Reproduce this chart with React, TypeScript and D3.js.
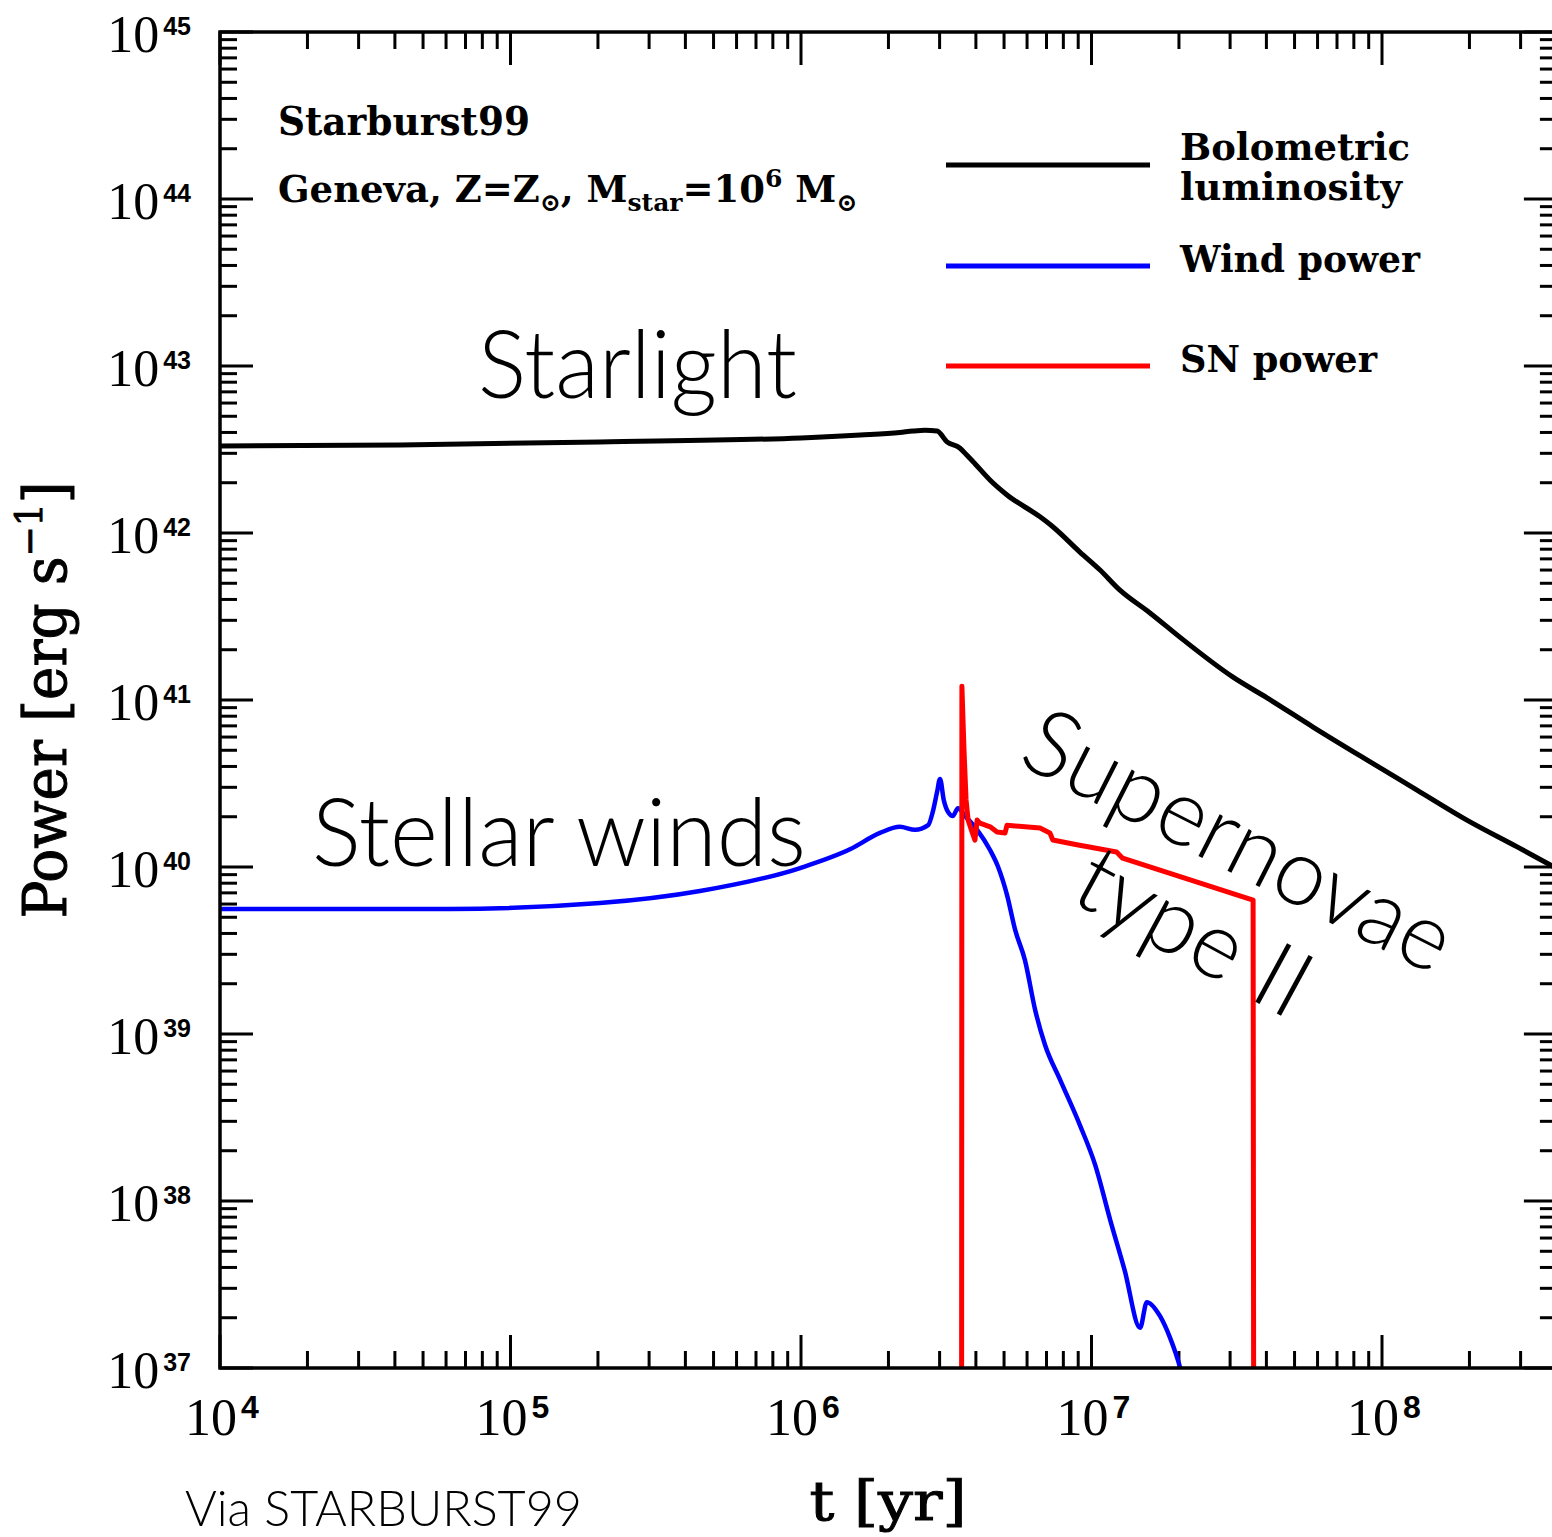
import React from 'react';
import * as d3 from 'd3';

// Starburst99 instantaneous burst, Geneva tracks, Z = Zsun, Mstar = 1e6 Msun
// Each entry: [time in yr, power in erg/s]
const bolometric: [number, number][] = [
  [1.0e4, 3.32e42], [4.17e4, 3.37e42], [2.03e5, 3.51e42], [1.0e6, 3.71e42],
  [1.6e6, 3.86e42], [2.19e6, 4.0e42], [2.43e6, 4.08e42], [2.67e6, 4.12e42],
  [2.94e6, 4.08e42], [3.18e6, 3.51e42], [3.52e6, 3.23e42], [3.72e6, 2.93e42],
  [3.97e6, 2.6e42], [4.48e6, 2.07e42], [5.12e6, 1.69e42], [6.65e6, 1.25e42],
  [7.36e6, 1.09e42], [9.12e6, 7.69e41], [1.07e7, 6.0e41], [1.25e7, 4.56e41],
  [1.59e7, 3.32e41], [2.07e7, 2.29e41], [3.07e7, 1.37e41], [4.02e7, 1.03e41],
  [5.79e7, 6.89e40], [8.87e7, 4.38e40], [1.32e8, 2.89e40], [1.96e8, 1.91e40],
  [2.92e8, 1.32e40], [4.0e8, 9.8e39],
];

const windPower: [number, number][] = [
  [1.0e4, 5.61e39], [6.19e4, 5.61e39], [2.03e5, 6.08e39], [4.49e5, 7.18e39],
  [9.93e5, 9.86e39], [1.48e6, 1.28e40], [1.87e6, 1.6e40], [2.19e6, 1.74e40],
  [2.47e6, 1.67e40], [2.74e6, 1.78e40], [2.84e6, 2.13e40], [2.94e6, 2.81e40],
  [3.01e6, 3.37e40], [3.1e6, 2.52e40], [3.21e6, 2.13e40], [3.33e6, 2.02e40],
  [3.47e6, 2.25e40], [3.67e6, 2.02e40], [4.04e6, 1.67e40], [4.48e6, 1.26e40],
  [4.76e6, 1.01e40], [5.12e6, 6.79e39], [5.46e6, 4.2e39], [5.9e6, 2.77e39],
  [6.4e6, 1.39e39], [6.92e6, 8.59e38], [7.8e6, 5.31e38], [9.12e6, 2.85e38],
  [1.03e7, 1.64e38], [1.16e7, 7.69e37], [1.3e7, 3.86e37], [1.47e7, 1.74e37],
  [1.55e7, 2.48e37], [1.72e7, 2.05e37], [1.86e7, 1.53e37], [2.02e7, 1.0e37],
  [2.09e7, 7.9e36],
];

const snPower: [number, number][] = [
  [3.57e6, 1e36], [3.58e6, 1.21e41], [3.64e6, 5.02e40], [3.7e6, 2.52e40],
  [3.76e6, 1.91e40], [3.88e6, 1.62e40], [3.97e6, 1.45e40], [4.04e6, 1.91e40],
  [4.13e6, 1.83e40], [4.48e6, 1.74e40], [4.73e6, 1.62e40], [5.04e6, 1.6e40],
  [5.12e6, 1.78e40], [6.65e6, 1.71e40], [7.19e6, 1.6e40], [7.36e6, 1.45e40],
  [8.91e6, 1.36e40], [1.22e7, 1.23e40], [1.28e7, 1.13e40], [3.6e7, 6.34e39],
  [3.62e7, 1e36],
];

const xDecades = [4, 5, 6, 7, 8];
const yDecades = [37, 38, 39, 40, 41, 42, 43, 44, 45];

const legendItems = [
  { lines: ['Bolometric', 'luminosity'], color: '#000000' },
  { lines: ['Wind power'], color: '#0000ff' },
  { lines: ['SN power'], color: '#ff0000' },
];

const SERIF = "'Liberation Serif', 'Times New Roman', serif";
const SANS = "'Liberation Sans', Arial, sans-serif";
const TYPE = "'DejaVu Serif', serif";
const LIGHT = "Lato, 'Open Sans', sans-serif";

export default function App() {
  const W = 1552;
  const H = 1537;
  const left = 220;
  const top = 32;
  const bottom = 1368;
  const decadeW = 290.5;
  const xMin = 1e4;
  const xMax = 4e8;

  const x = d3.scaleLog().domain([xMin, xMax]).range([left, left + decadeW * Math.log10(xMax / xMin)]);
  const y = d3.scaleLog().domain([1e37, 1e45]).range([bottom, top]);
  const right = x(xMax);

  const smooth = d3
    .line<[number, number]>()
    .x((d) => x(d[0]))
    .y((d) => y(d[1]))
    .curve(d3.curveMonotoneX);
  const sharp = d3
    .line<[number, number]>()
    .x((d) => x(d[0]))
    .y((d) => y(d[1]));

  const xMinor: number[] = [];
  xDecades.forEach((e) => {
    for (let m = 2; m <= 9; m++) {
      const v = m * Math.pow(10, e);
      if (v <= xMax * 1.0001) xMinor.push(v);
    }
  });
  const yMinor: number[] = [];
  yDecades.slice(0, -1).forEach((e) => {
    for (let m = 2; m <= 9; m++) yMinor.push(m * Math.pow(10, e));
  });

  const major = 33;
  const minor = 17;
  const tickStroke = 3;

  return (
    <div style={{ position: 'absolute', left: 0, top: 0 }}>
      <svg width={W} height={H} style={{ display: 'block', background: '#fff' }}>
        <defs>
          <clipPath id="plot-area">
            <rect x={left} y={top} width={right - left} height={bottom - top} />
          </clipPath>
        </defs>

        {/* ticks */}
        <g stroke="#000" strokeWidth={tickStroke}>
          {xDecades.map((e) => {
            const px = x(Math.pow(10, e));
            return (
              <g key={'xM' + e}>
                <line x1={px} x2={px} y1={bottom} y2={bottom - major} />
                <line x1={px} x2={px} y1={top} y2={top + major} />
              </g>
            );
          })}
          {xMinor.map((v, i) => {
            const px = x(v);
            return (
              <g key={'xm' + i}>
                <line x1={px} x2={px} y1={bottom} y2={bottom - minor} />
                <line x1={px} x2={px} y1={top} y2={top + minor} />
              </g>
            );
          })}
          {yDecades.map((e) => {
            const py = y(Math.pow(10, e));
            return (
              <g key={'yM' + e}>
                <line x1={left} x2={left + major} y1={py} y2={py} />
                <line x1={right} x2={right - major} y1={py} y2={py} />
              </g>
            );
          })}
          {yMinor.map((v, i) => {
            const py = y(v);
            return (
              <g key={'ym' + i}>
                <line x1={left} x2={left + minor} y1={py} y2={py} />
                <line x1={right} x2={right - minor} y1={py} y2={py} />
              </g>
            );
          })}
        </g>

        {/* curves */}
        <g clipPath="url(#plot-area)" fill="none" strokeLinejoin="round" strokeLinecap="round">
          <path d={smooth(windPower) || ''} stroke="#0000ff" strokeWidth={4.5} />
          <path d={sharp(snPower) || ''} stroke="#ff0000" strokeWidth={5} />
          <path d={smooth(bolometric) || ''} stroke="#000" strokeWidth={5} />
        </g>

        {/* frame */}
        <rect x={left} y={top} width={right - left} height={bottom - top} fill="none" stroke="#000" strokeWidth={3.5} />

        {/* y tick labels */}
        {yDecades.map((e) => (
          <text key={'yl' + e} x={191} y={y(Math.pow(10, e)) + 20} textAnchor="end" fill="#000">
            <tspan fontFamily={SERIF} fontSize={52}>10</tspan>
            <tspan fontFamily={SANS} fontWeight="bold" fontSize={25} dx={4} dy={-17}>{e}</tspan>
          </text>
        ))}

        {/* x tick labels */}
        {xDecades.map((e) => (
          <text key={'xl' + e} x={x(Math.pow(10, e)) + 2} y={1435} textAnchor="middle" fill="#000">
            <tspan fontFamily={SERIF} fontSize={52}>10</tspan>
            <tspan fontFamily={SANS} fontWeight="bold" fontSize={32} dx={4} dy={-17}>{e}</tspan>
          </text>
        ))}

        {/* axis titles */}
        <text x={888} y={1520} textAnchor="middle" fontFamily={TYPE} fontSize={54}
          stroke="#000" strokeWidth={1} textLength={157} lengthAdjust="spacingAndGlyphs">t [yr]</text>
        <text transform={`translate(66, ${(top + bottom) / 2}) rotate(-90)`} textAnchor="middle"
          fontFamily={TYPE} fontSize={60} stroke="#000" strokeWidth={1} textLength={437}
          lengthAdjust="spacingAndGlyphs">
          Power [erg s<tspan fontSize={38} dy={-24}>−1</tspan><tspan dy={24}>]</tspan>
        </text>

        {/* model annotation */}
        <text x={278} y={135} fontFamily={TYPE} fontWeight="bold" fontSize={40}
          textLength={252} lengthAdjust="spacingAndGlyphs">Starburst99</text>
        <text x={278} y={202} fontFamily={TYPE} fontWeight="bold" fontSize={37}>
          Geneva, Z=Z<tspan fontSize={25} dy={9}>⊙</tspan>
          <tspan dy={-9}>, M</tspan>
          <tspan fontSize={25} dy={9}>star</tspan>
          <tspan dy={-9}>=10</tspan>
          <tspan fontSize={25} dy={-15}>6</tspan>
          <tspan dy={15}>{' M'}</tspan>
          <tspan fontSize={25} dy={9}>⊙</tspan>
        </text>

        {/* legend */}
        {legendItems.map((item, i) => {
          const ly = [165, 266, 366][i];
          const ty = [160, 272, 372][i];
          const widths = [[230, 222], [240], [197]][i];
          return (
            <g key={'lg' + i}>
              <line x1={946} x2={1150} y1={ly} y2={ly} stroke={item.color} strokeWidth={5} />
              {item.lines.map((t, j) => (
                <text key={j} x={1180} y={ty + j * 40} fontFamily={TYPE} fontWeight="bold" fontSize={38}
                  textLength={widths[j]} lengthAdjust="spacingAndGlyphs">{t}</text>
              ))}
            </g>
          );
        })}

        {/* physical annotations */}
        <text x={478} y={398} fontFamily={LIGHT} fontWeight={300} fontSize={94} textLength={319}
          lengthAdjust="spacingAndGlyphs">Starlight</text>
        <text x={312} y={866} fontFamily={LIGHT} fontWeight={300} fontSize={94} textLength={494}
          lengthAdjust="spacingAndGlyphs">Stellar winds</text>
        <text transform="translate(1016, 763) rotate(27)" fontFamily={LIGHT} fontWeight={300} fontSize={94}
          textLength={468} lengthAdjust="spacingAndGlyphs">Supernovae</text>
        <text transform="translate(1068, 900) rotate(28.5)" fontFamily={LIGHT} fontWeight={300} fontSize={94}
          textLength={252} lengthAdjust="spacingAndGlyphs">type II</text>

        <text x={185} y={1526} fontFamily={LIGHT} fontWeight={300} fontSize={50} textLength={397}
          lengthAdjust="spacingAndGlyphs">Via STARBURST99</text>
      </svg>
    </div>
  );
}
